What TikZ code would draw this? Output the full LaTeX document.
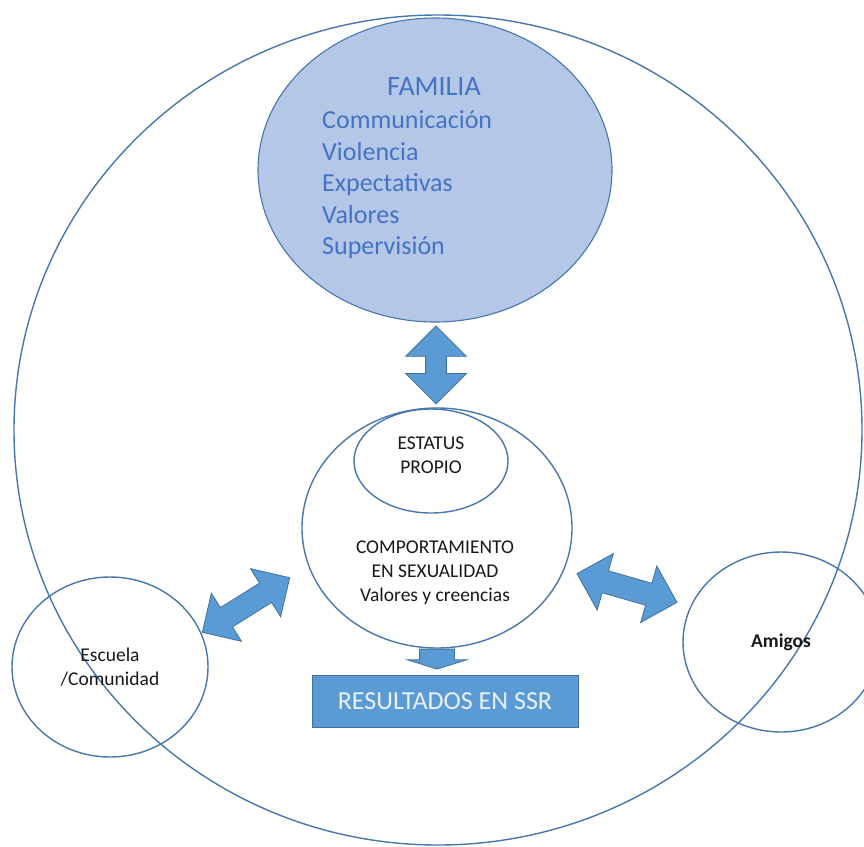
\documentclass[tikz,border=0pt]{standalone}
\usepackage{fontspec}
\setmainfont{Carlito}
\usepackage{xcolor}
\usepackage{tikz}
\usetikzlibrary{positioning,calc,shapes.geometric,shapes.arrows}
\definecolor{lineblue}{HTML}{4677AE}
\definecolor{famfill}{HTML}{B4C7E7}
\definecolor{famtext}{HTML}{4472C4}
\definecolor{arrowfill}{HTML}{5B9BD5}
\definecolor{arrowline}{HTML}{41719C}
\definecolor{restext}{HTML}{EAF0F8}
\tikzset{
  ring/.style={draw=lineblue, line width=1.4pt, ellipse, inner sep=0pt},
  famtxt/.style={text=famtext, inner sep=0pt, font=\fontsize{26}{31.5}\selectfont},
  txt/.style={text=black!90, inner sep=0pt, align=center, font=\fontsize{19.5}{24}\selectfont},
  dblarrow/.style={double arrow, draw=arrowline, fill=arrowfill, line width=0.8pt,
                   inner xsep=0pt, inner ysep=10pt, double arrow head extend=20pt,
                   double arrow tip angle=90, minimum height=#1},
  downarrow/.style={single arrow, draw=arrowline, fill=arrowfill, line width=0.8pt,
                    inner xsep=0pt, inner ysep=17pt, single arrow head extend=12pt,
                    single arrow tip angle=145, minimum height=20pt, rotate=-90},
  resbox/.style={draw=arrowline, fill=arrowfill, line width=0.8pt, text=restext,
                 minimum width=266pt, minimum height=52pt, inner sep=0pt,
                 font=\fontsize{26}{30}\selectfont},
}

\begin{document}
\begin{tikzpicture}[x=1pt, y=-1pt]
  \clip (0,0) rectangle (864,846);
  \node[ring, minimum width=848pt, minimum height=830pt] (world) at (438,430) {};
  \node[ring, fill=famfill, line width=1.1pt, minimum width=354pt, minimum height=304pt] (fam) at (435,170) {};
  \node[famtxt, font=\fontsize{28}{34}\selectfont] (famtitle) at (434,87) {FAMILIA};
  \node[famtxt, align=left, anchor=west] (famlist) at (322,185)
    {Communicación\\Violencia\\Expectativas\\Valores\\Supervisión};
  \node[ring, minimum width=270pt, minimum height=240pt] (comp) at (437,528) {};
  \node[ring, minimum width=154pt, minimum height=104pt] (status) at (431,461) {};
  \node[txt] (statustxt) at (431,455) {ESTATUS\\PROPIO};
  \node[txt] (comptxt) at (435,573) {COMPORTAMIENTO\\EN SEXUALIDAD\\Valores y creencias};
  \node[ring, minimum width=196pt, minimum height=180pt, txt] (esc) at (110,667) {Escuela\\/Comunidad};
  \node[ring, minimum width=196pt, minimum height=180pt, txt, font=\fontsize{19.5}{24}\selectfont\bfseries] (amig) at (781,642) {Amigos};
  \node[resbox] (res) at (445,701) {RESULTADOS EN SSR};
  \node[dblarrow=78pt, rotate=90] (famcomp) at ($(fam.south)!0.5!(comp.north)$) {};
  \node[dblarrow=103pt, rotate=32, inner ysep=11pt, double arrow head extend=17pt] (escarrow) at (246,605) {};
  \node[dblarrow=104pt, rotate=-16, inner ysep=11pt, double arrow head extend=18pt] (amigarrow) at (627,588) {};
  \node[downarrow, anchor=tail] (compres) at (comp.south) {};
\end{tikzpicture}
\end{document}
